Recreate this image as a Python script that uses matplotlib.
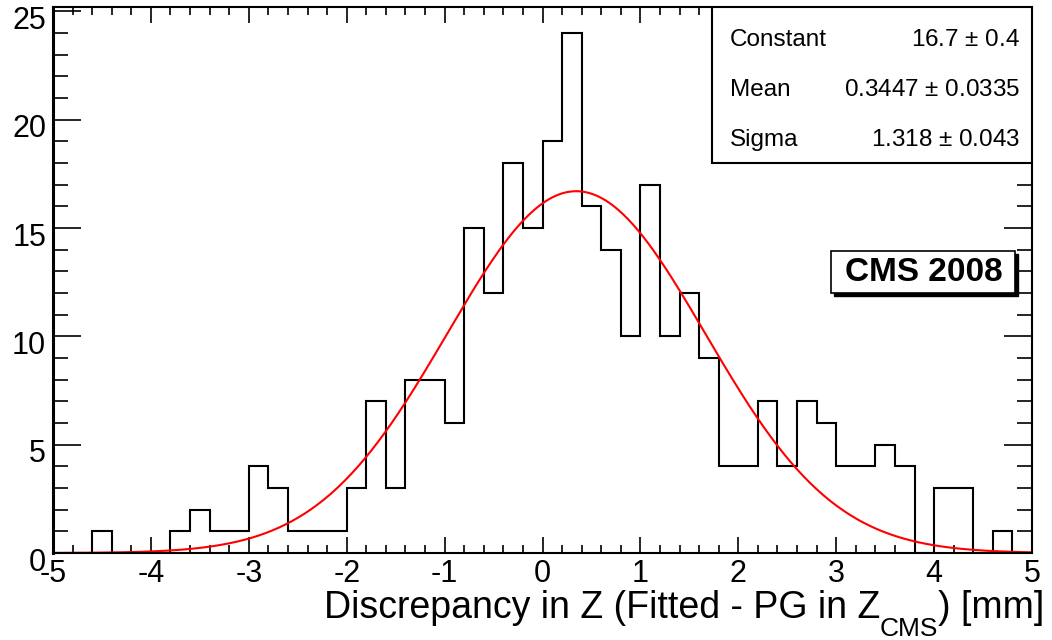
import numpy as np
import matplotlib
matplotlib.use('Agg')
import matplotlib.pyplot as plt
from matplotlib.patches import Rectangle
from matplotlib.transforms import ScaledTranslation

plt.rcParams['font.family'] = ['Liberation Sans', 'DejaVu Sans']
plt.rcParams['mathtext.fontset'] = 'custom'
plt.rcParams['mathtext.rm'] = 'Liberation Sans'

# histogram: 50 bins of 0.2 mm between -5 and 5
bin_edges = np.linspace(-5, 5, 51)
counts = [0, 0, 1, 0, 0, 0, 1, 2, 1, 1,
          4, 3, 1, 1, 1, 3, 7, 3, 8, 8,
          6, 15, 12, 18, 15, 19, 24, 16, 14, 10,
          17, 10, 12, 9, 4, 4, 7, 4, 7, 6,
          4, 4, 5, 4, 0, 3, 3, 0, 1, 0]

# gaussian fit results
fit_constant = 16.7
fit_mean = 0.3447
fit_sigma = 1.318
stat_names = ['Constant', 'Mean', 'Sigma']
stat_values = ['16.7 $\\pm$ 0.4', '0.3447 $\\pm$ 0.0335', '1.318 $\\pm$ 0.043']

fig = plt.figure(figsize=(10.52, 6.40), dpi=100)
ax = fig.add_axes([0.0504, 0.1359, 0.9306, 0.8531])

ax.stairs(counts, bin_edges, color='black', lw=1.5)

xf = np.linspace(-5, 5, 600)
yf = fit_constant * np.exp(-0.5 * ((xf - fit_mean) / fit_sigma) ** 2)
ax.plot(xf, yf, color='red', lw=1.5)

ax.set_xlim(-5, 5)
ax.set_ylim(0, 25.2)
ax.set_xticks(np.arange(-5, 6, 1))
ax.set_xticks(np.arange(-5, 5.01, 0.2), minor=True)
ax.set_yticks(np.arange(0, 26, 5))
ax.set_yticks(np.arange(0, 26, 1), minor=True)
ax.set_xticklabels([str(v) for v in range(-5, 6)])
ax.set_yticklabels([str(v) for v in range(0, 26, 5)])

ax.tick_params(which='both', direction='in', top=True, right=True, width=1.2,
               labelsize=22, color='black')
ax.tick_params(axis='x', which='major', length=11.5, pad=4)
ax.tick_params(axis='x', which='minor', length=5.8)
ax.tick_params(axis='y', which='major', length=20, pad=5)
ax.tick_params(axis='y', which='minor', length=10.8)
for sp in ax.spines.values():
    sp.set_linewidth(1.5)
ax.spines['left'].set_linewidth(2.2)

off = ScaledTranslation(0, -6 / 100, fig.dpi_scale_trans)
for lab in ax.get_yticklabels():
    lab.set_transform(lab.get_transform() + off)

# x title, built from pieces so the subscript sits low like in ROOT
r = fig.canvas.get_renderer()
t3 = fig.text(0.993, 0.034, ') [mm]', ha='right', va='baseline', fontsize=27)
x3 = t3.get_window_extent(r).x0 / fig.bbox.width
t2 = fig.text(x3, 0.006, 'CMS', ha='right', va='baseline', fontsize=19)
x2 = t2.get_window_extent(r).x0 / fig.bbox.width
fig.text(x2, 0.034, 'Discrepancy in Z (Fitted - PG in Z', ha='right',
         va='baseline', fontsize=27)

# stats box
ax.add_patch(Rectangle((0.673, 0.714), 0.327, 0.286, transform=ax.transAxes,
                       fc='white', ec='black', lw=1.5, zorder=5))
for i, (name, val) in enumerate(zip(stat_names, stat_values)):
    yy = 0.94 - i * 0.092
    ax.text(0.6915, yy, name, transform=ax.transAxes, ha='left', va='center',
            fontsize=17.5, zorder=6)
    ax.text(0.988, yy, val, transform=ax.transAxes, ha='right', va='center',
            fontsize=17.5, zorder=6)

# CMS label with shadow
ax.add_patch(Rectangle((0.798, 0.470), 0.188, 0.077, transform=ax.transAxes,
                       fc='black', ec='black', lw=1, zorder=5))
ax.add_patch(Rectangle((0.795, 0.476), 0.188, 0.077, transform=ax.transAxes,
                       fc='white', ec='black', lw=1.2, zorder=6))
ax.text(0.889, 0.5145, 'CMS 2008', transform=ax.transAxes, ha='center',
        va='center', fontsize=24, fontweight='bold', zorder=7)

fig.savefig('out.png', dpi=100)
